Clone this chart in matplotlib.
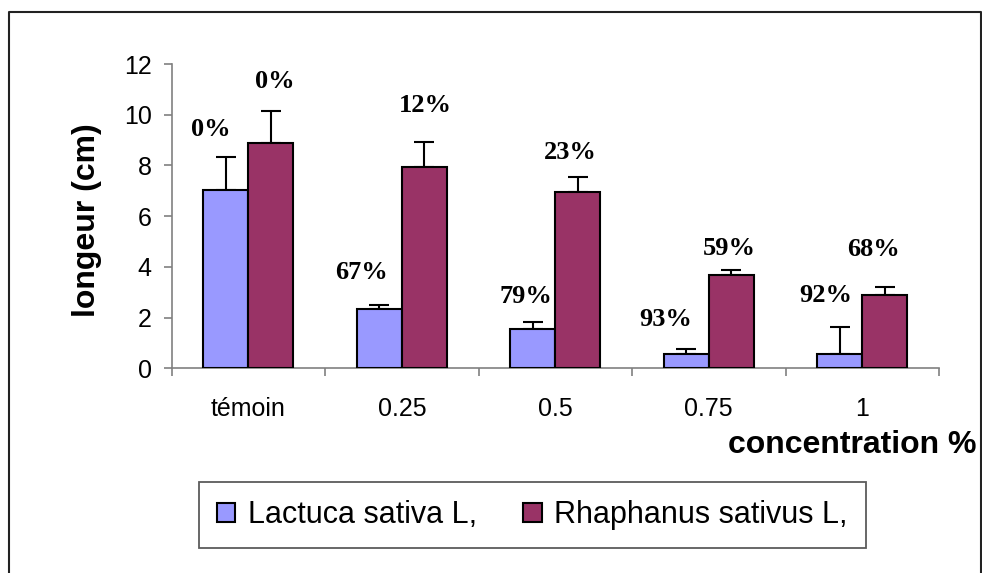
import matplotlib
matplotlib.use("Agg")
import matplotlib.pyplot as plt
from matplotlib.patches import Patch
from matplotlib.lines import Line2D
import numpy as np

categories = ["témoin", "0.25", "0.5", "0.75", "1"]
lactuca = [7.05, 2.33, 1.54, 0.56, 0.56]
lactuca_err = [1.27, 0.17, 0.27, 0.20, 1.08]
rhaphanus = [8.90, 7.93, 6.96, 3.67, 2.90]
rhaphanus_err = [1.26, 0.98, 0.58, 0.19, 0.29]
lactuca_pct = ["0%", "67%", "79%", "93%", "92%"]
rhaphanus_pct = ["0%", "12%", "23%", "59%", "68%"]
series_names = ["Lactuca sativa L,", "Rhaphanus sativus L,"]

# label offsets in pixels (dx from bar centre, dy above error-bar top)
lact_off = [(-15, 28), (-18, 32), (-6.5, 26), (-21, 30), (-14, 31)]
rhaph_off = [(4, 29), (1.5, 37), (-8, 25), (-1.5, 22), (-11, 38)]

c_lact = "#9999FF"
c_rhaph = "#993366"

fig = plt.figure(figsize=(9.82, 5.73), dpi=100)
fig.patch.set_facecolor("white")
ax = fig.add_axes([171.7/982, 1-368.3/573, (939-171.7)/982, (368.3-64)/573])

x = np.arange(len(categories))
w = 0.293
ax.bar(x - w/2, lactuca, w, color=c_lact, edgecolor="black", linewidth=1.5, zorder=3)
ax.bar(x + w/2, rhaphanus, w, color=c_rhaph, edgecolor="black", linewidth=1.5, zorder=3)
ax.errorbar(x - w/2, lactuca, yerr=[[0]*5, lactuca_err], fmt="none", ecolor="black",
            elinewidth=1.5, capsize=7, capthick=1.5, zorder=2)
ax.errorbar(x + w/2, rhaphanus, yerr=[[0]*5, rhaphanus_err], fmt="none", ecolor="black",
            elinewidth=1.5, capsize=7, capthick=1.5, zorder=2)

for xs, vals, errs, labs, offs in [(x - w/2, lactuca, lactuca_err, lactuca_pct, lact_off),
                                    (x + w/2, rhaphanus, rhaphanus_err, rhaphanus_pct, rhaph_off)]:
    for xi, v, e, lab, (dx, dy) in zip(xs, vals, errs, labs, offs):
        ax.annotate(lab, (xi, v + e), xytext=(dx, dy), textcoords="offset pixels",
                    ha="center", va="center", fontsize=19, fontweight="bold",
                    family="Liberation Serif", zorder=5)

ax.set_xlim(-0.5, len(categories) - 0.5)
ax.set_ylim(0, 12)
ax.set_yticks(np.arange(0, 13, 2))
ax.set_xticks(x)
ax.set_xticklabels(categories)
ax.set_xticks(np.arange(-0.5, len(categories), 1.0), minor=True)
ax.tick_params(axis="x", which="major", length=0, pad=21, labelsize=18)
ax.tick_params(axis="x", which="minor", length=6, width=1.2, color="#808080", direction="out")
ax.tick_params(axis="y", length=6, width=1.2, color="#808080", direction="out", pad=8.5, labelsize=18)
for lbl in ax.get_xticklabels() + ax.get_yticklabels():
    lbl.set_family("Liberation Sans")
for s in ["top", "right"]:
    ax.spines[s].set_visible(False)
for s in ["left", "bottom"]:
    ax.spines[s].set_color("#808080")
    ax.spines[s].set_linewidth(1.2)

fig.text(87.5/982, 1-220/573, "longeur (cm)", rotation=90, ha="center", va="center",
         fontsize=23, fontweight="bold", family="Liberation Sans")
fig.text(977/982, 1-445/573, "concentration %", ha="right", va="center",
         fontsize=23, fontweight="bold", family="Liberation Sans")

handles = [Patch(facecolor=c_lact, edgecolor="black", linewidth=1.5),
           Patch(facecolor=c_rhaph, edgecolor="black", linewidth=1.5)]
leg = fig.legend(handles, series_names, loc="center", bbox_to_anchor=(532.5/982, 1-515/573),
                 ncol=2, prop={"family": "Liberation Sans", "size": 22},
                 frameon=True, fancybox=False, shadow=False, handlelength=0.6, handleheight=0.6,
                 handletextpad=0.42, columnspacing=1.5, borderpad=0.6)
leg.get_frame().set_edgecolor("#333333")
leg.get_frame().set_linewidth(1.3)

# outer chart frame
fx0, fx1, fy = 8.5/982, 980.5/982, 1-12/573
fig.add_artist(Line2D([fx0, fx0, fx1, fx1], [-0.02, fy, fy, -0.02], transform=fig.transFigure,
                      color="#222222", linewidth=1.5))

fig.savefig("out.png", dpi=100, facecolor="white")
